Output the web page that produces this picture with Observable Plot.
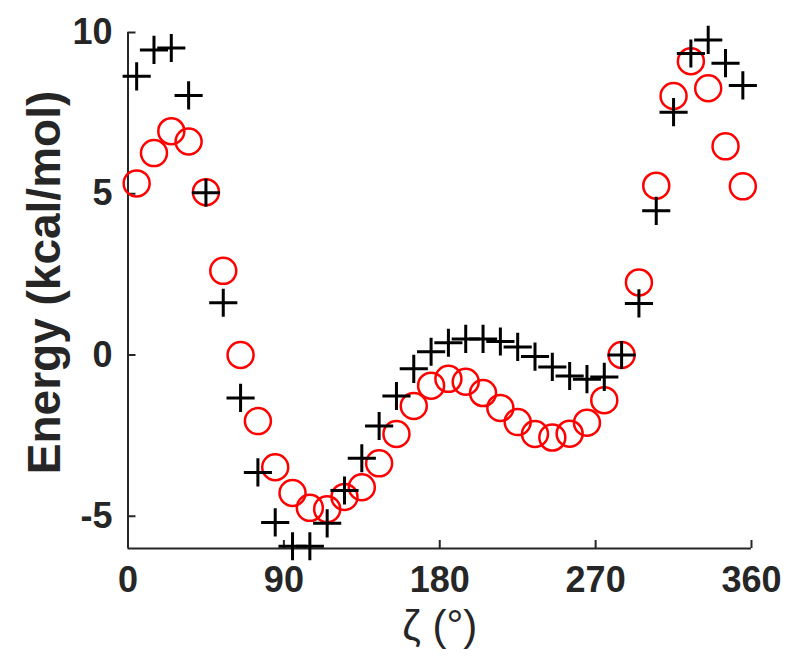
<!DOCTYPE html>
<html>
<head>
<meta charset="utf-8">
<script src="https://cdn.jsdelivr.net/npm/d3@7"></script>
<script src="https://cdn.jsdelivr.net/npm/@observablehq/plot@0.6"></script>
<style>
  html, body { margin: 0; padding: 0; background: #ffffff; }
  #chart { width: 800px; height: 665px; }
</style>
</head>
<body>
<div id="chart"></div>
<script>
// Dihedral angle zeta (degrees)
const zeta = [5, 15, 25, 35, 45, 55, 65, 75, 85, 95, 105, 115, 125, 135, 145, 155, 165, 175,
              185, 195, 205, 215, 225, 235, 245, 255, 265, 275, 285, 295, 305, 315, 325, 335, 345, 355];
// Red circles (kcal/mol)
const circleEnergy = [5.32, 6.26, 6.94, 6.62, 5.05, 2.61, 0.0, -2.05, -3.48, -4.28, -4.74, -4.78,
                      -4.4, -4.1, -3.36, -2.45, -1.58, -0.95, -0.74, -0.83, -1.18, -1.64, -2.08, -2.45,
                      -2.56, -2.44, -2.1, -1.4, 0.0, 2.25, 5.25, 8.03, 9.11, 8.27, 6.47, 5.23];
// Black plus markers (kcal/mol)
const plusEnergy = [8.64, 9.46, 9.52, 8.05, 5.03, 1.62, -1.33, -3.64, -5.19, -5.93, -5.93, -5.22,
                    -4.2, -3.2, -2.2, -1.27, -0.43, 0.1, 0.38, 0.5, 0.5, 0.42, 0.25, -0.05,
                    -0.37, -0.65, -0.75, -0.68, 0.0, 1.6, 4.47, 7.53, 9.35, 9.77, 9.05, 8.36];
const xTicks = [0, 90, 180, 270, 360];
const yTicks = [-5, 0, 5, 10];
const xDomain = [0, 360];
const yDomain = [-6, 10];
const xLabel = "ζ (°)";
const yLabel = "Energy (kcal/mol)";

const circles = zeta.map((z, i) => ({zeta: z, energy: circleEnergy[i]}));
const pluses = zeta.map((z, i) => ({zeta: z, energy: plusEnergy[i]}));

const axisColor = "#262626";
const fontStack = "'Liberation Sans', Arial, Helvetica, sans-serif";

const chart = Plot.plot({
  width: 800,
  height: 665,
  marginLeft: 127.5,
  marginRight: 49,
  marginTop: 32,
  marginBottom: 117,
  style: {fontFamily: fontStack, fontSize: "36px", fontWeight: "bold", color: axisColor, background: "#ffffff", overflow: "visible"},
  x: {domain: xDomain},
  y: {domain: yDomain},
  marks: [
    Plot.axisX({ticks: xTicks, tickSize: -8, tickPadding: 26, tickFormat: d => String(d), label: null, stroke: axisColor, strokeWidth: 2}),
    Plot.axisY({ticks: yTicks, tickSize: -8, tickPadding: 23.5, tickFormat: d => String(d), label: null, stroke: axisColor, strokeWidth: 2}),
    Plot.ruleX([xDomain[0]], {stroke: axisColor, strokeWidth: 2}),
    Plot.ruleY([yDomain[0]], {stroke: axisColor, strokeWidth: 2}),
    Plot.dot(circles, {x: "zeta", y: "energy", r: 13, stroke: "#ff0000", strokeWidth: 2.5, fill: "none"}),
    Plot.dot(pluses, {x: "zeta", y: "energy", r: 9.1, symbol: "plus", stroke: "#000000", strokeWidth: 3}),
    Plot.text([yLabel], {frameAnchor: "left", dx: -83, dy: -8, rotate: -90, fontSize: 46, fontWeight: "bold", fill: axisColor, textAnchor: "middle"}),
    Plot.text([xLabel], {frameAnchor: "bottom", dy: 91, fontSize: 42, fontWeight: "normal", fill: axisColor, textAnchor: "middle"})
  ]
});
document.getElementById("chart").appendChild(chart);
</script>
</body>
</html>
